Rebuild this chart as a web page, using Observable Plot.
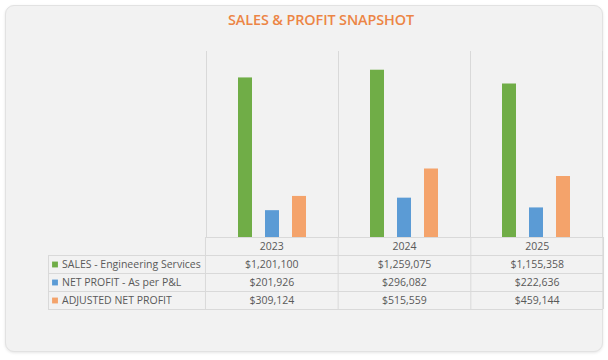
<!DOCTYPE html>
<html>
<head>
<meta charset="utf-8">
<script src="https://cdn.jsdelivr.net/npm/d3@7"></script>
<script src="https://cdn.jsdelivr.net/npm/@observablehq/plot@0.6"></script>
<style>
  html, body { margin: 0; padding: 0; background: #ffffff; width: 608px; height: 360px; overflow: hidden; }
  #panel { position: absolute; left: 5px; top: 5px; width: 596px; height: 345px; background: #f2f2f2;
           border: 1px solid #e2e2e2; border-radius: 9px; box-shadow: 0 1px 3px rgba(0,0,0,0.10); }
  #title { position: absolute; left: 228px; top: 10px; font-family: "Open Sans", sans-serif; font-weight: 600;
           font-size: 14.4px; color: #ec8545; white-space: nowrap; letter-spacing: -0.1px; }
  .chart { position: absolute; left: 0; }
</style>
</head>
<body>
<div id="panel"></div>
<div id="title">SALES &amp; PROFIT SNAPSHOT</div>
<div id="chartA" class="chart" style="top:0px"></div>
<div id="chartB" class="chart" style="top:237px"></div>
<script>
const years = ["2023", "2024", "2025"];
const series = ["SALES - Engineering Services", "NET PROFIT - As per P&L", "ADJUSTED NET PROFIT"];
const sales = [1201100, 1259075, 1155358];
const netProfit = [201926, 296082, 222636];
const adjustedNetProfit = [309124, 515559, 459144];
const colors = ["#70ad47", "#5b9bd5", "#f4a36b"];
const yMax = 1400000;

const seriesValues = [sales, netProfit, adjustedNetProfit];
const data = years.flatMap((yr, i) => series.map((s, j) => ({year: yr, yearIndex: i, series: s, row: j, value: seriesValues[j][i]})));
const fmt = d3.format("$,");
const grid = "#d9d9d9";
const textColor = "#595959";

const chartA = Plot.plot({
  width: 608, height: 238,
  marginTop: 51, marginBottom: 1, marginLeft: 205, marginRight: 5,
  style: {background: "transparent", overflow: "visible"},
  fx: {domain: years, padding: 0, axis: null},
  x: {domain: series, paddingInner: 0.47, paddingOuter: 1.13, axis: null},
  y: {domain: [0, yMax], axis: null},
  color: {domain: series, range: colors},
  marks: [
    Plot.frame({anchor: "left", stroke: grid}),
    Plot.frame({anchor: "right", stroke: grid}),
    Plot.barY(data, {fx: "year", x: "series", y: "value", fill: "series"}),
    Plot.ruleY([0], {stroke: grid})
  ]
});
document.getElementById("chartA").appendChild(chartA);

// Data table below the plot (x in column units: year index; label column to the left)
const labelCol = -1.183;
const nRows = series.length + 1; // header row + one row per series
const headerRows = years.map((yr, i) => ({label: yr, col: i, row: 0}));
const valueRows = data.map(d => ({label: fmt(d.value), col: d.yearIndex, row: d.row + 1}));
const seriesRows = series.map((s, j) => ({label: s, row: j + 1}));

const chartB = Plot.plot({
  width: 608, height: 74,
  marginTop: 0, marginBottom: 2, marginLeft: 48, marginRight: 5,
  style: {background: "transparent", overflow: "visible", fontFamily: "Open Sans, sans-serif"},
  x: {type: "linear", domain: [labelCol, years.length], axis: null},
  y: {type: "linear", domain: [0, nRows], reverse: true, axis: null},
  marks: [
    Plot.ruleX(d3.range(years.length + 1), {x: d => d, y1: 0, y2: nRows, stroke: grid}),
    Plot.ruleX([labelCol], {x: d => d, y1: 1, y2: nRows, stroke: grid}),
    Plot.ruleY(d3.range(1, nRows + 1), {y: d => d, x1: labelCol, x2: years.length, stroke: grid}),
    Plot.text(headerRows, {x: d => d.col + 0.5, y: d => d.row + 0.5, text: "label", fill: textColor, fontSize: 10.5}),
    Plot.text(valueRows, {x: d => d.col + 0.5, y: d => d.row + 0.5, text: "label", fill: textColor, fontSize: 10.5}),
    Plot.dot(seriesRows, {x: () => labelCol, y: d => d.row + 0.5, symbol: "square", r: 3.3, fill: (d, j) => colors[j], dx: 6.5}),
    Plot.text(seriesRows, {x: () => labelCol, y: d => d.row + 0.5, text: "label", textAnchor: "start", dx: 13.5, fill: textColor, fontSize: 10.5})
  ]
});
document.getElementById("chartB").appendChild(chartB);
</script>
</body>
</html>
